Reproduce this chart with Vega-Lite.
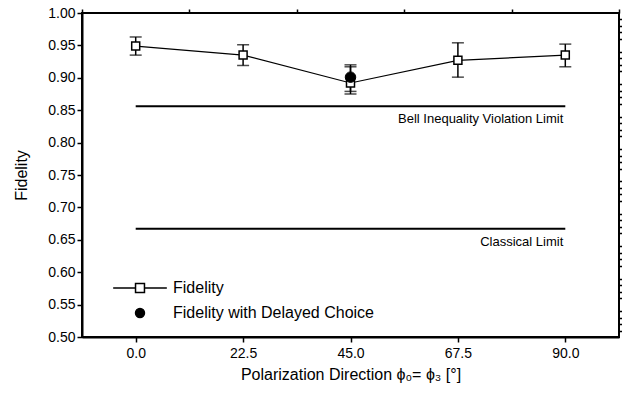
{
  "$schema": "https://vega.github.io/schema/vega-lite/v6.json",
  "width": 537,
  "height": 324,
  "autosize": {"type": "none"},
  "padding": {"left": 82, "top": 13, "right": 3, "bottom": 57},
  "background": "white",
  "config": {
    "font": "Liberation Sans",
    "view": {"stroke": "black", "strokeWidth": 2},
    "axis": {
      "domainColor": "black", "domainWidth": 2, "tickColor": "black", "tickWidth": 1.5,
      "labelColor": "black", "labelFontSize": 14, "titleColor": "black",
      "titleFontSize": 16, "titleFontWeight": "normal", "grid": false
    }
  },
  "datasets": {
    "points": [
      {"angle": 0, "series": "Fidelity", "F": 0.949, "lo": 0.935, "hi": 0.963},
      {"angle": 22.5, "series": "Fidelity", "F": 0.935, "lo": 0.919, "hi": 0.951},
      {"angle": 45, "series": "Fidelity", "F": 0.892, "lo": 0.879, "hi": 0.917},
      {"angle": 67.5, "series": "Fidelity", "F": 0.927, "lo": 0.901, "hi": 0.954},
      {"angle": 90, "series": "Fidelity", "F": 0.935, "lo": 0.917, "hi": 0.952},
      {"angle": 45, "series": "Fidelity with Delayed Choice", "F": 0.901, "lo": 0.875, "hi": 0.920}
    ],
    "limits": [
      {"x1": 0, "x2": 90, "y": 0.856, "label": "Bell Inequality Violation Limit"},
      {"x1": 0, "x2": 90, "y": 0.667, "label": "Classical Limit"}
    ]
  },
  "resolve": {"axis": {"x": "independent", "y": "independent"}},
  "layer": [
    {
      "data": {"name": "limits"},
      "mark": {"type": "rule", "color": "black", "strokeWidth": 2},
      "encoding": {
        "x": {"field": "x1", "type": "quantitative",
              "scale": {"domain": [-11.25, 101.25], "nice": false, "zero": false},
              "axis": {"values": [0, 22.5, 45, 67.5, 90], "format": ".1f", "tickSize": 5,
                       "labelPadding": 4, "title": "Polarization Direction ϕ₀= ϕ₃ [°]", "titlePadding": 6}},
        "x2": {"field": "x2"},
        "y": {"field": "y", "type": "quantitative",
              "scale": {"domain": [0.5, 1.0], "nice": false, "zero": false},
              "axis": {"values": [0.5, 0.55, 0.6, 0.65, 0.7, 0.75, 0.8, 0.85, 0.9, 0.95, 1.0],
                       "format": ".2f", "tickSize": 5, "labelPadding": 2, "title": "Fidelity", "titlePadding": 18}}
      }
    },
    {
      "data": {"name": "limits"},
      "mark": {"type": "text", "align": "right", "baseline": "middle", "dy": 13, "dx": -2, "fontSize": 13, "color": "black"},
      "encoding": {
        "x": {"field": "x2", "type": "quantitative", "axis": null},
        "y": {"field": "y", "type": "quantitative", "axis": null},
        "text": {"field": "label"}
      }
    },
    {
      "data": {"name": "points"},
      "transform": [{"filter": "datum.series === 'Fidelity'"}],
      "mark": {"type": "line", "color": "black", "strokeWidth": 1.2},
      "encoding": {
        "x": {"field": "angle", "type": "quantitative", "axis": null},
        "y": {"field": "F", "type": "quantitative", "axis": null}
      }
    },
    {
      "data": {"name": "points"},
      "mark": {"type": "rule", "color": "black", "strokeWidth": 1.5},
      "encoding": {
        "x": {"field": "angle", "type": "quantitative", "axis": null},
        "y": {"field": "lo", "type": "quantitative", "axis": null},
        "y2": {"field": "hi"}
      }
    },
    {
      "data": {"name": "points"},
      "mark": {"type": "tick", "orient": "horizontal", "color": "black", "size": 12, "thickness": 1.5},
      "encoding": {
        "x": {"field": "angle", "type": "quantitative", "axis": null},
        "y": {"field": "lo", "type": "quantitative", "axis": null}
      }
    },
    {
      "data": {"name": "points"},
      "mark": {"type": "tick", "orient": "horizontal", "color": "black", "size": 12, "thickness": 1.5},
      "encoding": {
        "x": {"field": "angle", "type": "quantitative", "axis": null},
        "y": {"field": "hi", "type": "quantitative", "axis": null}
      }
    },
    {
      "data": {"name": "points"},
      "transform": [{"filter": "datum.series === 'Fidelity'"}],
      "mark": {"type": "point", "shape": "square", "size": 64, "filled": true, "fill": "white", "stroke": "black", "strokeWidth": 1.5, "opacity": 1},
      "encoding": {
        "x": {"field": "angle", "type": "quantitative", "axis": null},
        "y": {"field": "F", "type": "quantitative", "axis": null}
      }
    },
    {
      "data": {"name": "points"},
      "transform": [{"filter": "datum.series !== 'Fidelity'"}],
      "mark": {"type": "point", "shape": "circle", "size": 110, "filled": true, "fill": "black", "stroke": "black", "strokeWidth": 1, "opacity": 1},
      "encoding": {
        "x": {"field": "angle", "type": "quantitative", "axis": null},
        "y": {"field": "F", "type": "quantitative", "axis": null}
      }
    },
    {
      "data": {"name": "points"},
      "mark": {"type": "point", "filled": true, "stroke": "black", "strokeWidth": 1.5, "opacity": 0},
      "encoding": {
        "x": {"field": "angle", "type": "quantitative",
              "scale": {"domain": [-11.25, 101.25], "nice": false, "zero": false},
              "axis": {"values": [-11.25, 11.25, 33.75, 56.25, 78.75, 101.25], "labels": false, "domain": false, "tickSize": 4, "title": null}},
        "y": {"field": "F", "type": "quantitative",
              "scale": {"domain": [0.5, 1.0], "nice": false, "zero": false},
              "axis": {"values": [0.51,0.52,0.53,0.54,0.56,0.57,0.58,0.59,0.61,0.62,0.63,0.64,0.66,0.67,0.68,0.69,0.71,0.72,0.73,0.74,0.76,0.77,0.78,0.79,0.81,0.82,0.83,0.84,0.86,0.87,0.88,0.89,0.91,0.92,0.93,0.94,0.96,0.97,0.98,0.99],
                       "labels": false, "domain": false, "tickSize": 3, "title": null}},
        "shape": {"field": "series", "type": "nominal",
                  "scale": {"domain": ["Fidelity", "Fidelity with Delayed Choice"], "range": ["M-6,0H-1M1,0H6M-1,-1H1V1H-1Z", "circle"]},
                  "legend": {"orient": "none", "legendX": 50, "legendY": 267, "title": null, "padding": 0,
                             "labelFontSize": 16, "labelColor": "black", "labelLimit": 400, "symbolSize": 80, "symbolStrokeWidth": 1.5,
                             "symbolStrokeColor": "black", "symbolOpacity": 1, "labelOffset": 25, "rowPadding": 9,
                             "encode": {"symbols": {"update": {"stroke": {"value": "black"}, "strokeWidth": {"value": 1.5}, "opacity": {"value": 1}, "strokeOpacity": {"value": 1}, "fillOpacity": {"value": 1}}}}}},
        "fill": {"field": "series", "type": "nominal",
                 "scale": {"domain": ["Fidelity", "Fidelity with Delayed Choice"], "range": ["white", "black"]},
                 "legend": {"orient": "none", "legendX": 50, "legendY": 267, "title": null, "padding": 0,
                            "labelFontSize": 16, "labelColor": "black", "labelLimit": 400, "symbolSize": 80, "symbolStrokeWidth": 1.5,
                            "symbolStrokeColor": "black", "symbolOpacity": 1, "labelOffset": 25, "rowPadding": 9,
                            "encode": {"symbols": {"update": {"stroke": {"value": "black"}, "strokeWidth": {"value": 1.5}, "opacity": {"value": 1}, "strokeOpacity": {"value": 1}, "fillOpacity": {"value": 1}}}}}}
      }
    }
  ]
}
